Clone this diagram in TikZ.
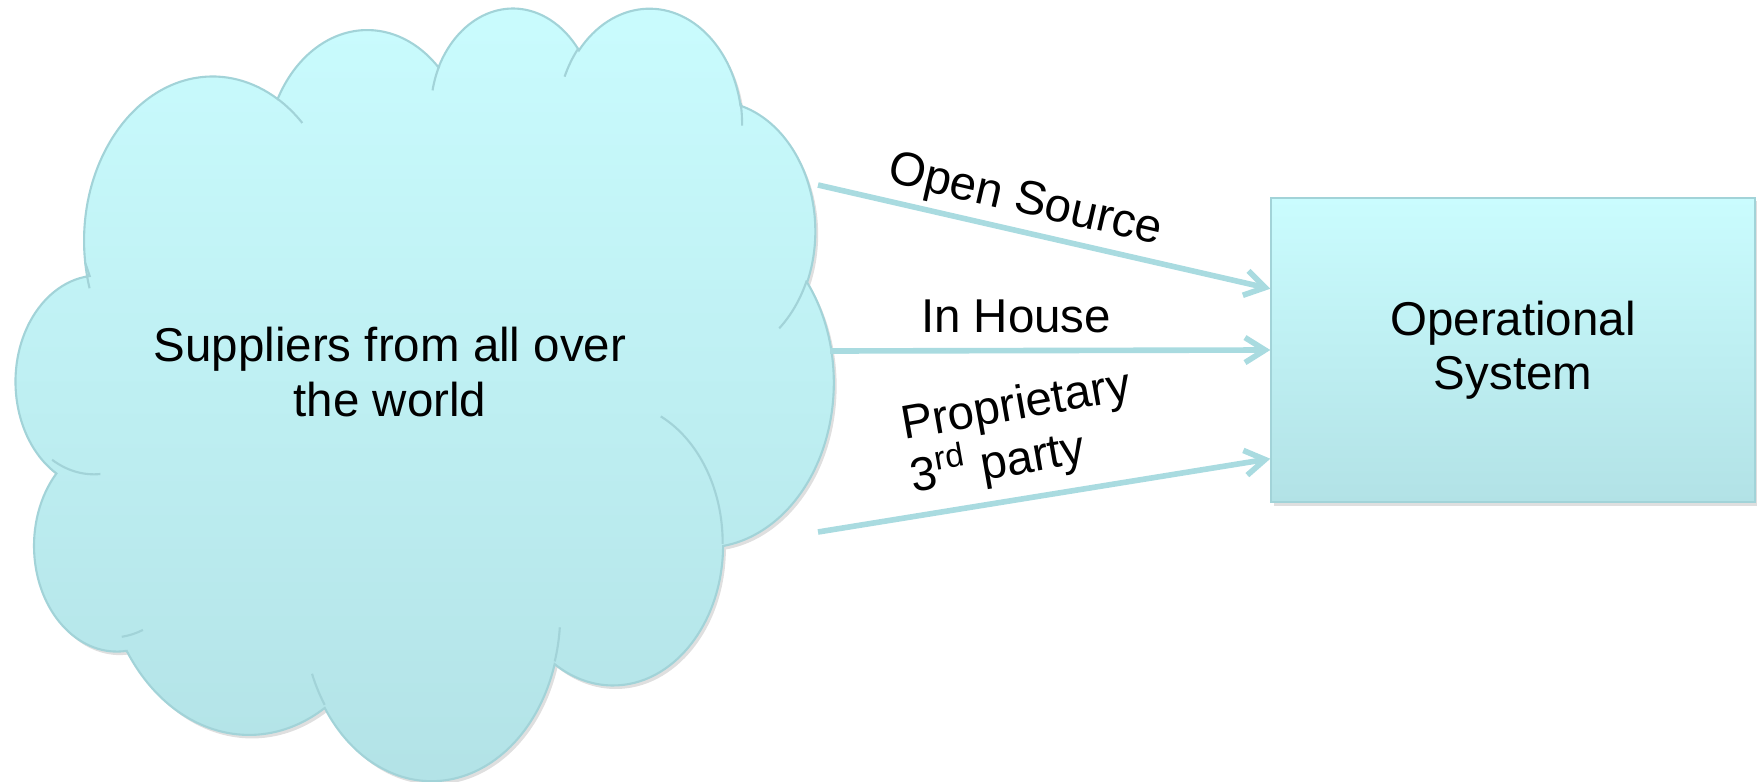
\documentclass[tikz,border=0pt]{standalone}
\usepackage{fontspec}
\setmainfont{Liberation Sans}
\usetikzlibrary{arrows.meta}
\usetikzlibrary{calc}
\usetikzlibrary{shadows}
\definecolor{cyanlight}{HTML}{CAFCFE}
\definecolor{cyandark}{HTML}{B2E2E6}
\definecolor{cyanline}{HTML}{A2D3D8}
\definecolor{arrowcyan}{HTML}{A9DBE0}

% ellipse arc given by screen angles -> parametric angles for tikz
\newcommand\puffangles[4]{%
  \pgfmathsetmacro\puffstart{atan2((#1)*sin(#3),(#2)*cos(#3))}%
  \pgfmathsetmacro\puffend{atan2((#1)*sin((#3)+(#4)),(#2)*cos((#3)+(#4)))}%
  \pgfmathsetmacro\puffsweep{\puffend-\puffstart}%
  \pgfmathsetmacro\puffsweep{\puffsweep<0 ? \puffsweep+360 : \puffsweep}%
}

\begin{document}
\begin{tikzpicture}[x=0.01cm, y=-0.01cm]
    \tikzstyle cloudfill=[draw=cyanline, line width=0.6pt, top color=cyanlight, bottom color=cyandark,
      drop shadow={opacity=0.25, shadow xshift=0.8pt, shadow yshift=-1pt}]
    \tikzstyle cloudcrease=[draw=cyanline, line width=0.6pt]
    \tikzstyle bodytext=[font=\fontsize{13.5pt}{15.4pt}\selectfont]
    \tikzstyle feedtext=[bodytext, inner sep=1pt]
    \tikzstyle box=[draw=cyanline, line width=0.6pt, top color=cyanlight, bottom color=cyandark,
      minimum width=4.83cm, minimum height=3.04cm, align=center, bodytext,
      drop shadow={opacity=0.25, shadow xshift=0.8pt, shadow yshift=-1pt}]
    \tikzstyle feed=[line width=1.6pt, arrowcyan, -{Straight Barb[length=2mm, width=2.5mm]}]
    \useasboundingbox (0,0) rectangle (1764,782);

    % the cloud, one arc per puff
    \begin{scope}[shift={(11,6)}, x=0.019028cm, y=-0.01787cm]
      \draw[cloudfill] (39,143.70)
        \foreach \rx/\ry/\st/\sw in {67.53/91.90/-190.4875/123.7805,
          53.33/72.67/-144.1024/89.9452, 43.65/59.45/-145.8079/99.7230,
          48.57/65.95/-130.9861/117.2417, 53.33/72.73/-78.7089/109.0269,
          67.75/92.20/-46.2673/130.2690, 57.85/78.67/0.6250/114.0333,
          67.52/92.15/22.4516/115.1726, 77.20/105.43/66.2426/71.4875,
          43.60/59.18/-274.9421/146.7336, 43.45/59.45/-246.8285/152.5170}
        {\pgfextra{\puffangles{\rx}{\ry}{\st}{\sw}}
         arc[start angle=\puffstart, delta angle=\puffsweep, x radius=\rx, y radius=\ry]}
        -- cycle;
      % creases between the puffs
      \draw[cloudcrease]
        \foreach \px/\py/\rx/\ry/\st/\sw in {46.93/261.77/43.45/59.45/86.742/26.4295,
          69.28/348.99/43.60/59.18/73.6105/11.4475,
          164.78/390.90/67.52/92.15/137.6242/14.0811,
          288.27/347.51/67.52/92.15/6.4533/15.9984,
          341.29/229.54/57.85/78.67/-70.2924/70.9174,
          417.98/153.54/53.33/72.73/30.318/27.7515,
          383.24/54.26/48.57/65.95/-13.7443/14.8589,
          290.78/39.52/48.57/65.95/-149.1815/18.1954,
          221.41/47.20/43.65/59.45/-163.4943/17.6864,
          140.00/51.92/67.53/91.90/-66.707/12.3194,
          41.27/157.89/67.53/91.90/157.6544/11.8582}
        {(\px,\py) \pgfextra{\puffangles{\rx}{\ry}{\st}{\sw}}
         arc[start angle=\puffstart, delta angle=\puffsweep, x radius=\rx, y radius=\ry]};
    \end{scope}

    \node[bodytext, align=center] (suppliers) at (390,372) {Suppliers from all over\\the world};
    \node[box] (opsys) at (1513,350) {Operational\\System};

    \coordinate (os-from) at (818,185);
    \coordinate (ih-from) at (830,351);
    \coordinate (pt-from) at (818,532);
    \draw[feed] (os-from) -- ($(opsys.north west)!0.3!(opsys.south west)$);
    \draw[feed] (ih-from) -- (opsys.west);
    \draw[feed] (pt-from) -- ($(opsys.north west)!0.855!(opsys.south west)$);

    \node[feedtext, rotate=-13] (os-text) at (1025,202) {Open Source};
    \node[feedtext] (ih-text) at (1016,316) {In House};
    \node[feedtext, rotate=10, align=left] (pt-text) at (1021,434) {Proprietary\\3\textsuperscript{rd} party};
\end{tikzpicture}
\end{document}
